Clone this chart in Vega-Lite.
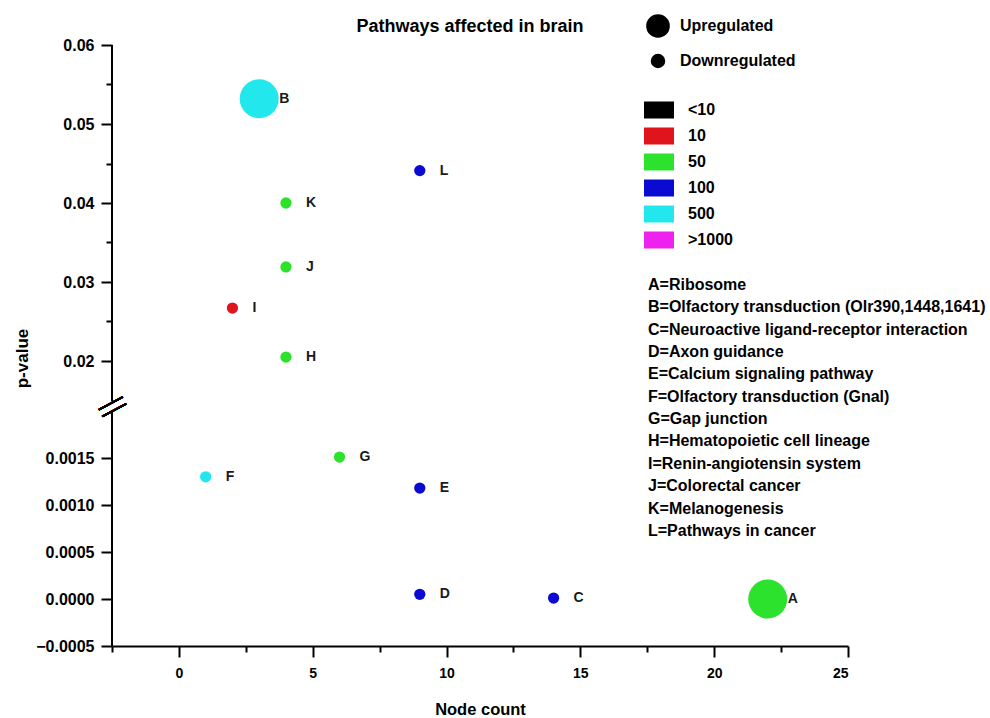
{
  "$schema": "https://vega.github.io/schema/vega-lite/v6.json",
  "width": 736,
  "height": 601,
  "autosize": {"type": "none"},
  "padding": {"left": 112, "top": 45, "right": 142, "bottom": 72},
  "background": "white",
  "config": {
    "font": "Liberation Sans",
    "view": {"stroke": null},
    "axis": {"grid": false, "domainColor": "black", "domainWidth": 2, "tickColor": "black", "tickWidth": 2, "labelColor": "black", "labelFontWeight": "bold", "titleColor": "black", "titleFontWeight": "bold"}
  },
  "title": {"text": "Pathways affected in brain", "frame": "group", "fontSize": 18, "fontWeight": "bold", "font": "Liberation Sans", "anchor": "middle", "dx": -10, "dy": 53, "offset": 17, "baseline": "alphabetic", "color": "black"},
  "resolve": {"scale": {"size": "independent"}},
  "data": {
    "values": [
      {"id": "A", "desc": "A=Ribosome", "node": 22, "p": 0.0, "cls": "50", "reg": "Upregulated"},
      {"id": "B", "desc": "B=Olfactory transduction (Olr390,1448,1641)", "node": 3, "p": 0.0532, "cls": "500", "reg": "Upregulated"},
      {"id": "C", "desc": "C=Neuroactive ligand-receptor interaction", "node": 14, "p": 0.00001, "cls": "100", "reg": "Downregulated"},
      {"id": "D", "desc": "D=Axon guidance", "node": 9, "p": 0.00005, "cls": "100", "reg": "Downregulated"},
      {"id": "E", "desc": "E=Calcium signaling pathway", "node": 9, "p": 0.00118, "cls": "100", "reg": "Downregulated"},
      {"id": "F", "desc": "F=Olfactory transduction (Gnal)", "node": 1, "p": 0.0013, "cls": "500", "reg": "Downregulated"},
      {"id": "G", "desc": "G=Gap junction", "node": 6, "p": 0.00151, "cls": "50", "reg": "Downregulated"},
      {"id": "H", "desc": "H=Hematopoietic cell lineage", "node": 4, "p": 0.0205, "cls": "50", "reg": "Downregulated"},
      {"id": "I", "desc": "I=Renin-angiotensin system", "node": 2, "p": 0.0267, "cls": "10", "reg": "Downregulated"},
      {"id": "J", "desc": "J=Colorectal cancer", "node": 4, "p": 0.0319, "cls": "50", "reg": "Downregulated"},
      {"id": "K", "desc": "K=Melanogenesis", "node": 4, "p": 0.04, "cls": "50", "reg": "Downregulated"},
      {"id": "L", "desc": "L=Pathways in cancer", "node": 9, "p": 0.0441, "cls": "100", "reg": "Downregulated"}
    ]
  },
  "layer": [
    {
      "mark": {"type": "point", "filled": true, "opacity": 1, "strokeWidth": 0},
      "encoding": {
        "x": {
          "field": "node", "type": "quantitative",
          "scale": {"domain": [-2.5, 25], "nice": false, "zero": false},
          "axis": {
            "title": "Node count",
            "values": [-2.5, 0, 2.5, 5, 7.5, 10, 12.5, 15, 17.5, 20, 22.5, 25],
            "labelExpr": "datum.value % 5 === 0 ? format(datum.value, 'd') : ''",
            "tickSize": {"condition": {"test": "datum.value % 5 === 0", "value": 11}, "value": 6},
            "labelFontSize": 14,
            "labelPadding": 9,
            "titleFontSize": 16.5,
            "titleY": 63, "titleAlign": "center", "titleBaseline": "middle"
          }
        },
        "y": {
          "field": "p", "type": "quantitative",
          "scale": {"domain": [-0.0005, 0.002, 0.015, 0.06], "range": [601, 366, 355.5, 0], "nice": false, "zero": false},
          "axis": {
            "title": "p-value",
            "domain": false,
            "values": [-0.0005, 0, 0.0005, 0.001, 0.0015, 0.02, 0.025, 0.03, 0.035, 0.04, 0.045, 0.05, 0.055, 0.06],
            "labelExpr": "datum.value < 0.01 ? format(datum.value, '.4f') : (abs(datum.value * 100 - round(datum.value * 100)) < 0.000001 ? format(datum.value, '.2f') : '')",
            "tickSize": {"condition": {"test": "datum.value > 0.01 && abs(datum.value * 100 - round(datum.value * 100)) > 0.000001", "value": 6}, "value": 11},
            "labelFontSize": 16,
            "labelPadding": 7,
            "titleFontSize": 17,
            "titleX": -90, "titleY": 313, "titleAngle": 270, "titleAlign": "center", "titleBaseline": "middle"
          }
        },
        "color": {
          "field": "cls", "type": "nominal",
          "scale": {"domain": ["<10", "10", "50", "100", "500", ">1000"], "range": ["#000000", "#e0141c", "#2ce22c", "#0a0ad2", "#22e8ee", "#ee22ee"]},
          "legend": {"orient": "none", "legendX": 537, "legendY": 55, "title": null, "padding": 0, "symbolType": "M-1.5,-0.85H1.5V0.85H-1.5Z", "symbolSize": 400, "symbolStrokeWidth": 0, "labelFontSize": 16, "labelFontWeight": "bold", "labelColor": "black", "labelOffset": 19, "rowPadding": 7}
        },
        "size": {
          "field": "reg", "type": "ordinal",
          "scale": {"domain": ["Upregulated", "Downregulated"], "range": [1520, 127]},
          "legend": null
        },
        "shape": {
          "field": "desc", "type": "nominal",
          "scale": {"range": ["circle"]},
          "legend": {"orient": "none", "legendX": 520, "legendY": 232, "title": null, "padding": 0, "symbolSize": 0, "symbolOpacity": 0, "symbolStrokeWidth": 0, "labelOffset": 0, "labelFontSize": 16, "labelFontWeight": "bold", "labelColor": "black", "rowPadding": 6.35, "labelLimit": 400}
        }
      }
    },
    {
      "mark": {"type": "point", "filled": true, "opacity": 0, "strokeWidth": 0, "shape": "circle", "color": "black"},
      "encoding": {
        "x": {"field": "node", "type": "quantitative"},
        "y": {"field": "p", "type": "quantitative"},
        "size": {
          "field": "reg", "type": "ordinal",
          "scale": {"domain": ["Upregulated", "Downregulated"], "range": [560, 210]},
          "legend": {"orient": "none", "legendX": 534, "legendY": -31, "title": null, "padding": 0, "symbolType": "circle", "symbolFillColor": "black", "symbolStrokeColor": "black", "symbolStrokeWidth": 0, "symbolOpacity": 1, "labelFontSize": 16, "labelFontWeight": "bold", "labelColor": "black", "labelOffset": 10, "rowPadding": 15}
        }
      }
    },
    {
      "mark": {"type": "text", "align": "left", "baseline": "middle", "dx": 20, "fontSize": 14, "fontWeight": "bold", "color": "#1a1a1a"},
      "encoding": {
        "x": {"field": "node", "type": "quantitative"},
        "y": {"field": "p", "type": "quantitative"},
        "text": {"field": "id"}
      }
    },
    {
      "mark": {"type": "rule", "color": "black", "strokeWidth": 2},
      "encoding": {
        "x": {"datum": -2.5, "type": "quantitative"},
        "y": {"datum": 0.015, "type": "quantitative"},
        "y2": {"datum": 0.06}
      }
    },
    {
      "mark": {"type": "rule", "color": "black", "strokeWidth": 2},
      "encoding": {
        "x": {"datum": -2.5, "type": "quantitative"},
        "y": {"datum": -0.0005, "type": "quantitative"},
        "y2": {"datum": 0.002}
      }
    },
    {
      "mark": {"type": "text", "text": "—", "fontSize": 27, "angle": 332, "align": "center", "baseline": "middle", "dy": -3.8, "color": "black"},
      "encoding": {
        "x": {"datum": -2.5, "type": "quantitative"},
        "y": {"datum": 0.0085, "type": "quantitative"}
      }
    },
    {
      "mark": {"type": "text", "text": "—", "fontSize": 27, "angle": 332, "align": "center", "baseline": "middle", "dy": 3.8, "color": "black"},
      "encoding": {
        "x": {"datum": -2.5, "type": "quantitative"},
        "y": {"datum": 0.0085, "type": "quantitative"}
      }
    }
  ]
}
